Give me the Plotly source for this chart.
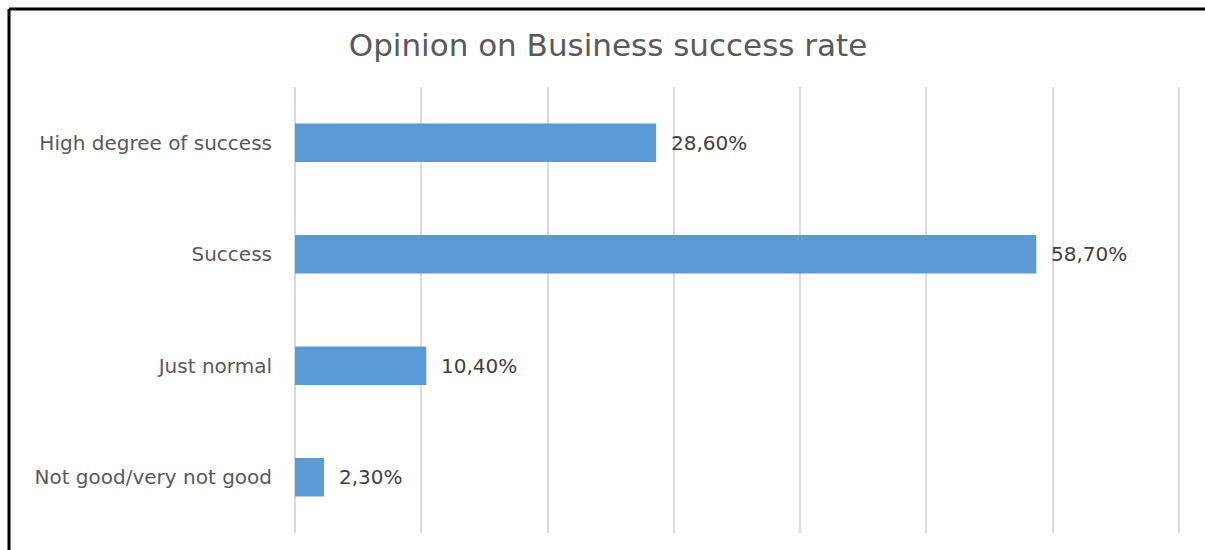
import plotly.graph_objects as go

categories = ["High degree of success", "Success", "Just normal", "Not good/very not good"]
values = [28.6, 58.7, 10.4, 2.3]
title_text = "Opinion on Business success rate"

FONT = "DejaVu Sans"
W, H = 1205, 550
L, R, T, B = 295, 25, 87, 17
pw, ph = W - L - R, H - T - B

fig = go.Figure()
fig.add_trace(go.Bar(
    x=values, y=categories, orientation="h",
    marker=dict(color="#5B9BD5", line=dict(width=0)),
    hoverinfo="skip",
))

for c, v in zip(categories, values):
    fig.add_annotation(
        x=v, y=c, xref="x", yref="y", text=f"{v:.2f}%".replace(".", ","),
        showarrow=False, xanchor="left", xshift=13,
        font=dict(family=FONT, size=20, color="#404040"),
    )

def px_x(p):
    return (p - L) / pw

def px_y(p):
    return (H - B - p) / ph

fig.add_shape(type="line", xref="paper", yref="paper",
              x0=px_x(9), x1=px_x(1210), y0=px_y(9), y1=px_y(9),
              line=dict(color="black", width=3))
fig.add_shape(type="line", xref="paper", yref="paper",
              x0=px_x(9), x1=px_x(9), y0=px_y(9), y1=px_y(560),
              line=dict(color="black", width=3))

fig.update_layout(
    width=W, height=H,
    margin=dict(l=L, r=R, t=T, b=B, pad=0),
    paper_bgcolor="white", plot_bgcolor="white",
    bargap=0.655,
    showlegend=False,
    title=dict(text=title_text, x=608 / W, xanchor="center",
               y=1 - 45 / H, yanchor="middle",
               font=dict(family=FONT, size=31, color="#595959")),
    xaxis=dict(range=[0, 70.08], dtick=10, showticklabels=False,
               showgrid=True, gridcolor="#D9D9D9", gridwidth=2,
               zeroline=True, zerolinecolor="#D9D9D9", zerolinewidth=2,
               showline=False, fixedrange=True),
    yaxis=dict(categoryorder="array", categoryarray=categories[::-1],
               showgrid=False, showline=False, ticks="",
               ticklabelstandoff=22,
               tickfont=dict(family=FONT, size=20, color="#595959"),
               fixedrange=True),
)

fig.write_html("out.html")
